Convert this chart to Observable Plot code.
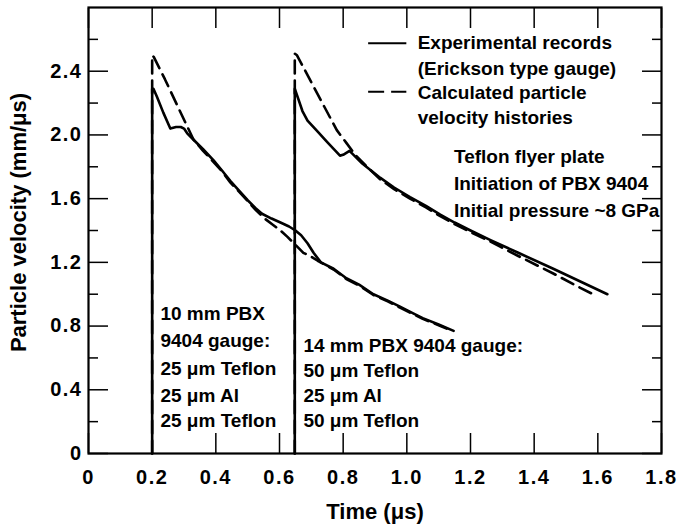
<!DOCTYPE html>
<html><head><meta charset="utf-8">
<script src="https://cdn.jsdelivr.net/npm/d3@7"></script>
<script src="https://cdn.jsdelivr.net/npm/@observablehq/plot@0.6"></script>
<style>
html,body{margin:0;padding:0;background:#fff;}
</style></head><body><div id="chart"></div>
<script>
// ---- tick values and labels
const xTicks = [0, 0.2, 0.4, 0.6, 0.8, 1.0, 1.2, 1.4, 1.6, 1.8];
const xTickLabels = ["0", "0.2", "0.4", "0.6", "0.8", "1.0", "1.2", "1.4", "1.6", "1.8"];
const yMajorTicks = [0, 0.4, 0.8, 1.2, 1.6, 2.0, 2.4];
const yTickLabels = ["0", "0.4", "0.8", "1.2", "1.6", "2.0", "2.4"];
const yMinorTicks = [0.2, 0.6, 1.0, 1.4, 1.8, 2.2, 2.6];

// ---- 10 mm gauge: experimental record (solid)
const exp10Time = [0.200, 0.200, 0.204, 0.215, 0.235, 0.257, 0.275, 0.290, 0.300, 0.310, 0.330, 0.360, 0.393, 0.420, 0.446, 0.475, 0.500, 0.525, 0.545, 0.575, 0.603, 0.630, 0.650, 0.668, 0.688, 0.707, 0.730, 0.770, 0.810, 0.850, 0.895, 0.940, 0.980, 1.020, 1.050, 1.100, 1.147];
const exp10Vel  = [0.00, 2.29, 2.29, 2.24, 2.14, 2.04, 2.05, 2.05, 2.04, 2.01, 1.97, 1.91, 1.84, 1.775, 1.71, 1.645, 1.59, 1.54, 1.505, 1.475, 1.45, 1.425, 1.40, 1.37, 1.32, 1.26, 1.20, 1.16, 1.10, 1.06, 1.00, 0.96, 0.92, 0.88, 0.85, 0.81, 0.77];
// ---- 10 mm gauge: calculated history (dashed)
const calc10Time = [0.200, 0.200, 0.205, 0.240, 0.280, 0.330, 0.360, 0.393, 0.420, 0.446, 0.475, 0.500, 0.525, 0.550, 0.580, 0.603, 0.625, 0.645, 0.675, 0.700, 0.720, 0.770, 0.810, 0.850, 0.895, 0.940, 0.980, 1.020, 1.050, 1.100, 1.130];
const calc10Vel  = [0.00, 2.50, 2.49, 2.35, 2.18, 1.97, 1.90, 1.83, 1.77, 1.70, 1.64, 1.585, 1.53, 1.48, 1.435, 1.40, 1.36, 1.32, 1.26, 1.235, 1.21, 1.155, 1.095, 1.055, 0.995, 0.955, 0.915, 0.875, 0.845, 0.805, 0.78];
// ---- 14 mm gauge: experimental record (solid)
const exp14Time = [0.648, 0.648, 0.655, 0.672, 0.688, 0.720, 0.750, 0.790, 0.800, 0.820, 0.860, 0.917, 0.960, 1.010, 1.060, 1.105, 1.150, 1.200, 1.263, 1.350, 1.460, 1.545, 1.630];
const exp14Vel  = [0.00, 2.29, 2.25, 2.15, 2.09, 2.02, 1.955, 1.87, 1.875, 1.90, 1.82, 1.73, 1.67, 1.61, 1.555, 1.50, 1.45, 1.40, 1.34, 1.26, 1.16, 1.08, 1.00];
// ---- 14 mm gauge: calculated history (dashed)
const calc14Time = [0.648, 0.648, 0.655, 0.700, 0.740, 0.780, 0.810, 0.840, 0.880, 0.917, 0.960, 1.010, 1.060, 1.105, 1.150, 1.200, 1.263, 1.350, 1.460, 1.545, 1.580];
const calc14Vel  = [0.00, 2.51, 2.50, 2.33, 2.18, 2.03, 1.95, 1.87, 1.79, 1.72, 1.66, 1.60, 1.545, 1.49, 1.44, 1.39, 1.33, 1.24, 1.13, 1.04, 1.005];

// ---- annotation texts
const legendLabels = ["Experimental records", "(Erickson type gauge)", "Calculated particle", "velocity histories"];
const conditionLabels = ["Teflon flyer plate", "Initiation of PBX 9404", "Initial pressure ~8 GPa"];
const gauge10Labels = ["10 mm PBX", "9404 gauge:", "25 \u03bcm Teflon", "25 \u03bcm Al", "25 \u03bcm Teflon"];
const gauge14Labels = ["14 mm PBX 9404 gauge:", "50 \u03bcm Teflon", "25 \u03bcm Al", "50 \u03bcm Teflon"];
const xTitle = "Time (\u03bcs)";
const yTitle = "Particle velocity (mm/\u03bcs)";

const toRows = (ts, vs) => ts.map((t, i) => ({t, v: vs[i]}));
const exp10 = toRows(exp10Time, exp10Vel);
const calc10 = toRows(calc10Time, calc10Vel);
const exp14 = toRows(exp14Time, exp14Vel);
const calc14 = toRows(calc14Time, calc14Vel);

// layout (text anchor positions, in chart units)
const legendX = 1.034, legendY = [2.575, 2.412, 2.261, 2.104];
const condX = 1.148, condY = [1.859, 1.690, 1.526];
const g10X = 0.226, g10Y = [0.879, 0.710, 0.534, 0.364, 0.207];
const g14X = 0.675, g14Y = [0.678, 0.521, 0.364, 0.207];
const textBlock = (labels, x, ys) => Plot.text(labels, {
  x: () => x, y: (d, i) => ys[i], text: d => d, textAnchor: "start", fontSize: 19, fill: "black"
});

const LW = 2.6, DASH = "13,7";
const fmtX = d => xTickLabels[xTicks.indexOf(d)];
const fmtY = d => yTickLabels[yMajorTicks.indexOf(d)];
const blank = () => "";

const chart = Plot.plot({
  width: 677, height: 530,
  marginLeft: 88, marginRight: 16, marginTop: 7, marginBottom: 77,
  style: {fontFamily: "'Liberation Sans', Arial, sans-serif", fontWeight: "bold", color: "black", background: "white"},
  x: {domain: [0, 1.8], label: null},
  y: {domain: [0, 2.8], label: null},
  marks: [
    // inward ticks
    Plot.axisX(xTicks, {anchor: "bottom", tickSize: -20, tickFormat: blank, label: null, strokeWidth: 1.5}),
    Plot.axisX(xTicks, {anchor: "top", tickSize: -20, tickFormat: blank, label: null, strokeWidth: 1.5}),
    Plot.axisY(yMajorTicks, {anchor: "left", tickSize: -20, tickFormat: blank, label: null, strokeWidth: 1.5}),
    Plot.axisY(yMajorTicks, {anchor: "right", tickSize: -20, tickFormat: blank, label: null, strokeWidth: 1.5}),
    Plot.axisY(yMinorTicks, {anchor: "left", tickSize: -10, tickFormat: blank, label: null, strokeWidth: 1.5}),
    Plot.axisY(yMinorTicks, {anchor: "right", tickSize: -10, tickFormat: blank, label: null, strokeWidth: 1.5}),
    // tick labels
    Plot.axisX(xTicks, {anchor: "bottom", tickSize: 0, tickPadding: 16, tickFormat: fmtX, label: null, fontSize: 20}),
    Plot.axisY(yMajorTicks, {anchor: "left", tickSize: 0, tickPadding: 6, tickFormat: fmtY, label: null, fontSize: 20}),
    // axis titles
    Plot.text([xTitle], {frameAnchor: "bottom", dy: 65, text: d => d, fontSize: 22, fill: "black", ariaLabel: "x-title"}),
    Plot.text([yTitle], {frameAnchor: "left", dx: -70, dy: -8, rotate: -90, textAnchor: "middle", text: d => d, fontSize: 22, fill: "black", ariaLabel: "y-title"}),
    Plot.frame({stroke: "black", strokeWidth: 2.2}),
    // curves
    Plot.line(exp10, {x: "t", y: "v", stroke: "black", strokeWidth: LW}),
    Plot.line(calc10, {x: "t", y: "v", stroke: "black", strokeWidth: LW, strokeDasharray: DASH}),
    Plot.line(exp14, {x: "t", y: "v", stroke: "black", strokeWidth: LW}),
    Plot.line(calc14, {x: "t", y: "v", stroke: "black", strokeWidth: LW, strokeDasharray: DASH}),
    // legend samples
    Plot.ruleY([legendY[0]], {x1: 0.88, x2: 1.0, stroke: "black", strokeWidth: 2}),
    Plot.ruleY([legendY[2] + 0.01], {x1: 0.88, x2: 1.0, stroke: "black", strokeWidth: 2, strokeDasharray: "16,7"}),
    textBlock(legendLabels, legendX, legendY),
    textBlock(conditionLabels, condX, condY),
    textBlock(gauge10Labels, g10X, g10Y),
    textBlock(gauge14Labels, g14X, g14Y)
  ]
});
const svg = d3.select(chart);
svg.selectAll('g[aria-label="x-axis tick label"] text, g[aria-label="y-axis tick label"] text').style("letter-spacing", "1.5px");
svg.selectAll('g[aria-label="y-title"] text').style("letter-spacing", "0.5px");
svg.selectAll('g[aria-label="x-title"] text').style("letter-spacing", "0.4px");
document.getElementById("chart").appendChild(chart);
</script>
</body></html>
